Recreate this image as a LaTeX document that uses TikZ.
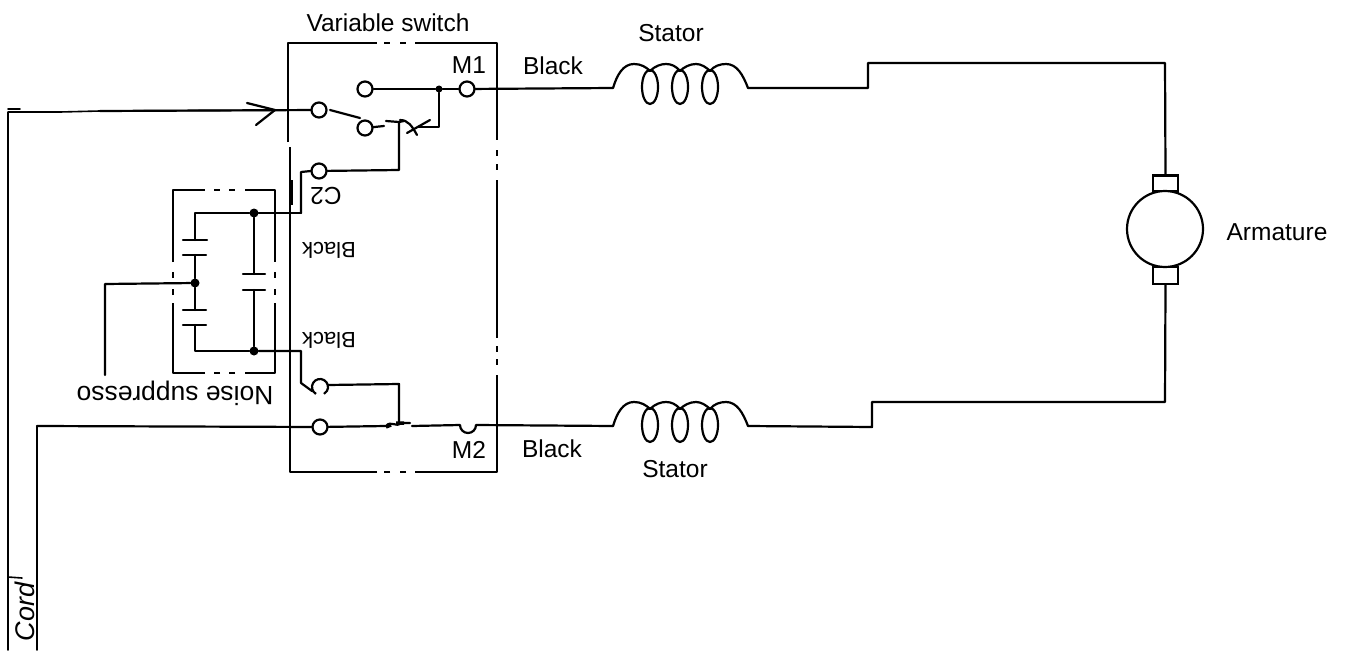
\documentclass[tikz,border=0pt]{standalone}
\usepackage{fontspec}
\setmainfont{Liberation Sans}
\tikzset{
  wire/.style={line width=2.2pt,line join=round,line cap=round,black},
  thinwire/.style={line width=1.6pt,line join=round,line cap=round,black},
  boxline/.style={line width=2pt,line join=round,black},
  contact/.style={circle,draw=black,line width=2.2pt,fill=white,minimum size=15pt,inner sep=0pt},
  junction/.style={circle,fill=black,minimum size=9pt,inner sep=0pt},
  lab/.style={font=\fontsize{24.5}{26}\selectfont,inner sep=0pt,text=black},
  plate/.style={line width=2.2pt,line cap=round,black}
}
\newcommand{\coilat}[3]{%
  \coordinate (#1a) at (#2,#3);
  \coordinate (#1b) at (#2+135,#3);
  \draw[wire] (#1a) .. controls (#2+4,#3-13) and (#2+10,#3-24) .. (#2+21,#3-24)
    .. controls (#2+28,#3-24) and (#2+33,#3-21) .. (#2+37,#3-17)
    .. controls (#2+42,#3-22) and (#2+48,#3-24) .. (#2+53,#3-24)
    .. controls (#2+58,#3-24) and (#2+63,#3-22) .. (#2+67,#3-17)
    .. controls (#2+71,#3-21) and (#2+77,#3-24) .. (#2+83,#3-24)
    .. controls (#2+88,#3-24) and (#2+93,#3-21) .. (#2+97,#3-17)
    .. controls (#2+101,#3-22) and (#2+107,#3-24) .. (#2+113,#3-24)
    .. controls (#2+124,#3-24) and (#2+130,#3-13) .. (#1b);
  \draw[wire] (#2+37,#3-1) ellipse [x radius=8,y radius=17];
  \draw[wire] (#2+67,#3-1) ellipse [x radius=8,y radius=17];
  \draw[wire] (#2+97,#3-1) ellipse [x radius=8,y radius=17];
}
\begin{document}
\begin{tikzpicture}[x=1pt,y=-1pt]
\useasboundingbox[fill=white] (0,0) rectangle (1348,650);

% switch housing
\draw[boxline] (288,142) -- (288,43) -- (377,43);
\draw[boxline] (384,43) -- (390,43) (400,43) -- (406,43);
\draw[boxline] (415,43) -- (497,43) -- (497,140);
\draw[boxline] (497,150) -- (497,156) (497,164) -- (497,170);
\draw[boxline] (497,180) -- (497,338) (497,346) -- (497,352) (497,359) -- (497,365);
\draw[boxline] (497,375) -- (497,472) -- (415,472);
\draw[boxline] (406,472) -- (400,472) (390,472) -- (384,472);
\draw[boxline] (377,472) -- (290,472) -- (290,147);
\draw[line width=3.5pt,black] (291,180) -- (291,205);

% suppressor housing
\draw[boxline] (173,262) -- (173,190) -- (205,190);
\draw[boxline] (214,190) -- (220,190) (229,190) -- (235,190);
\draw[boxline] (245,190) -- (275,190) -- (275,262);
\draw[boxline] (275,272) -- (275,278) (275,289) -- (275,295);
\draw[boxline] (275,303) -- (275,373) -- (245,373);
\draw[boxline] (235,373) -- (229,373) (220,373) -- (214,373);
\draw[boxline] (205,373) -- (173,373) -- (173,303);
\draw[boxline] (173,295) -- (173,289) (173,278) -- (173,272);

% contacts
\node[contact] (in) at (319,110) {};
\node[contact] (up) at (365,89) {};
\node[contact] (blade) at (365,128) {};
\node[contact] (mone) at (467,89) {};
\node[contact] (ctwo) at (319,171) {};
\node[contact] (out) at (320,427) {};
\coordinate (lowc) at (320,387);
\draw[line width=2.2pt,black] (lowc) ++(120:8) arc[start angle=120,end angle=420,radius=8];
\coordinate (mtwo) at (468,425);
\draw[line width=2.2pt,black] (460,425) arc[start angle=180,end angle=0,radius=8];

% cord and input
\coordinate (cordtop) at (8,112);
\coordinate (cordend) at (8,650);
\coordinate (cordtwoend) at (37,650);
\coordinate (cordtwotop) at (37,426);
\draw[thinwire] (cordend) -- (cordtop) -- (60,112) -- (100,111) -- (in);
\draw[thinwire] (8,109) -- (20,109);
\draw[wire] (35,112) -- (60,112);
\draw[wire] (100,111) -- (in);
\draw[wire] (cordtwotop) -- (out);
\draw[thinwire] (cordtwoend) -- (cordtwotop);
\coordinate (arrtip) at (275,110);
\draw[wire] (247,103) -- (arrtip) -- (256,125);
\draw[wire] (330,110) -- (360,118);

% switch internals
\node[junction,minimum size=7pt] (jm) at (439,89) {};
\draw[wire] (up) -- (jm) -- (mone);
\coordinate (xr) at (439,127);
\draw[wire] (jm) -- (xr) -- (418,127);
\draw[wire] (407,133) -- (430,120);
\draw[wire] (400,120) .. controls (408,120) and (412,126) .. (417,135);
\draw[wire] (blade) -- (384,126);
\coordinate (hopa) at (399,122);
\draw[wire] (386,121) -- (hopa) -- (404,121);
\coordinate (hopb) at (399,170);
\draw[wire] (hopa) -- (hopb) -- (ctwo);
\coordinate (ca) at (301,172);
\coordinate (cb) at (301,213);
\draw[wire] (ctwo) -- (311,171) -- (ca) -- (cb);

% capacitor network
\node[junction] (jt) at (254,213) {};
\node[junction] (jb) at (254,351) {};
\node[junction] (jm2) at (195,283) {};
\coordinate (cl) at (195,213);
\coordinate (clb) at (195,351);
\draw[wire] (cb) -- (jt) -- (cl) -- (195,240);
\draw[plate] (183,240) -- (207,240) (183,255) -- (206,255);
\draw[wire] (195,255) -- (jm2) -- (195,310);
\draw[plate] (183,310) -- (206,310) (183,325) -- (206,325);
\draw[wire] (195,325) -- (clb) -- (jb);
\draw[wire] (jt) -- (254,274);
\draw[plate] (243,274) -- (265,274) (243,290) -- (265,290);
\draw[wire] (254,290) -- (jb);
\coordinate (gl) at (105,284);
\coordinate (gle) at (105,375);
\draw[wire] (jm2) -- (gl) -- (gle);
\coordinate (da) at (301,351);
\coordinate (db) at (301,383);
\draw[wire] (jb) -- (da) -- (db) -- (312,391);
\coordinate (lr) at (399,384);
\coordinate (ls) at (399,422);
\draw[wire] (328,385) -- (lr) -- (ls);
\draw[wire] (out) -- (386,426) .. controls (391,420) and (396,428) .. (401,423) -- (410,423);
\draw[wire] (412,426) -- (460,425);
\draw[line width=3.5pt] (386,427) -- (391,425) (396,423) -- (404,423);

% motor side
\coilat{su}{613}{88}
\coilat{sl}{613}{426}
\draw[wire] (mone) -- (sua);
\draw[wire] (476,425) -- (sla);
\node[draw=black,line width=2.2pt,minimum width=25pt,minimum height=16pt,inner sep=0pt] (bt) at (1165.5,183.5) {};
\node[draw=black,line width=2.2pt,minimum width=25pt,minimum height=17pt,inner sep=0pt] (bb) at (1165.5,275.5) {};
\node[circle,draw=black,line width=2.2pt,fill=white,minimum size=76pt,inner sep=0pt] (arm) at (1165,229) {};
\draw[wire] (sub) -- (868,88) -- (868,63) -- (1165,63) -- (bt.north);
\draw[wire] (bb.south) -- (1165,402) -- (872,402) -- (872,427) -- (slb);

% labels
\node[lab] (t1) at (388,23) {Variable switch};
\node[lab] (t2) at (671,33) {Stator};
\node[lab] (t3) at (675,469) {Stator};
\node[lab] (t4) at (553,66) {Black};
\node[lab] (t5) at (552,449) {Black};
\node[lab] (t6) at (469,65) {M1};
\node[lab] (t7) at (469,450) {M2};
\node[lab] (t8) at (1277,232) {Armature};
\node[lab,rotate=180] (t9) at (326,196) {C2};
\node[lab,rotate=180,font=\fontsize{22}{24}\selectfont] (t10) at (329,250) {Black};
\node[lab,rotate=180,font=\fontsize{22}{24}\selectfont] (t11) at (329,340) {Black};
\node[lab,rotate=180,font=\fontsize{26.4}{28}\selectfont] (t12) at (175,393) {Noise suppresso};
\node[rotate=90,font=\fontsize{27}{28}\itshape,inner sep=0pt,text=black] (t13) at (25,612) {Cord};
\coordinate (ticka) at (8,577);
\coordinate (tickb) at (22,578);
\draw[thinwire] (ticka) -- (tickb);
\end{tikzpicture}
\end{document}
